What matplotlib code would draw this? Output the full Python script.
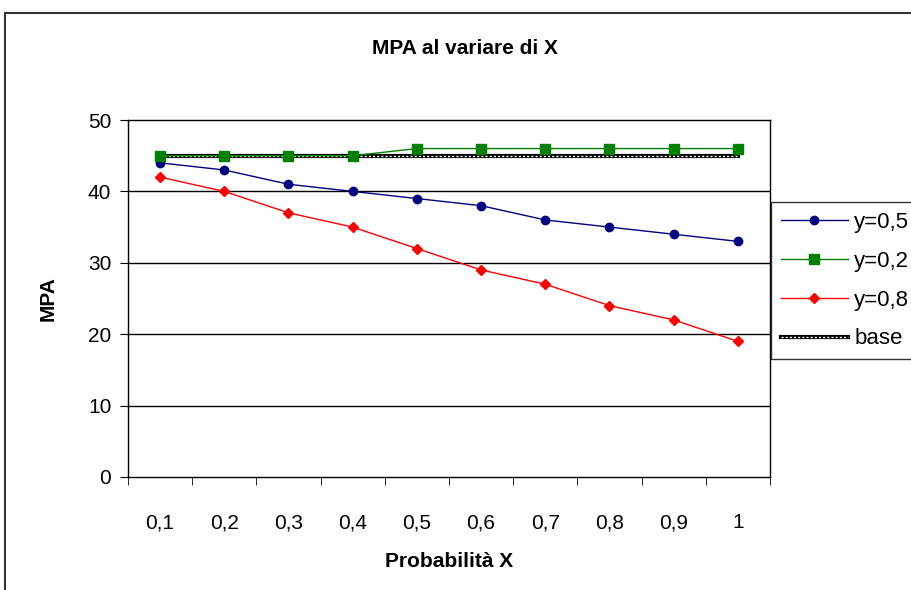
import numpy as np
import matplotlib.pyplot as plt
from matplotlib.patches import Rectangle
from matplotlib.lines import Line2D

plt.rcParams["font.family"] = ["Liberation Sans", "DejaVu Sans"]

# Dati
categorie = ["0,1", "0,2", "0,3", "0,4", "0,5", "0,6", "0,7", "0,8", "0,9", "1"]
y_05 = [44, 43, 41, 40, 39, 38, 36, 35, 34, 33]
y_02 = [45, 45, 45, 45, 46, 46, 46, 46, 46, 46]
y_08 = [42, 40, 37, 35, 32, 29, 27, 24, 22, 19]
base = [45, 45, 45, 45, 45, 45, 45, 45, 45, 45]

fig = plt.figure(figsize=(9.12, 5.9), dpi=100)
W, H = 912, 590
ax = fig.add_axes([128 / W, 1 - 477 / H, (770 - 128) / W, (477 - 120) / H])

x = np.arange(len(categorie))

# bordo esterno del grafico (stile Excel)
fig.patches.append(Rectangle((5 / W, -0.05), 1.2, 1 - 13 / H + 0.05,
                             transform=fig.transFigure, fill=False,
                             edgecolor="#333333", lw=1.5))

for v in [10, 20, 30, 40]:
    ax.axhline(v, color="black", lw=1, zorder=1)

ax.plot(x, base, color="black", lw=3, zorder=2)
ax.plot(x, base, color="white", lw=1, ls=(0, (1.5, 1.5)), zorder=2.1)
ax.plot(x, y_05, color="navy", marker="o", ms=6, lw=1, zorder=3, label="y=0,5")
ax.plot(x, y_02, color="green", marker="s", ms=7, lw=1, zorder=3, label="y=0,2")
ax.plot(x, y_08, color="red", marker="D", ms=5, lw=1, zorder=3, label="y=0,8")

ax.set_xlim(-0.5, len(categorie) - 0.5)
ax.set_ylim(0, 50)
ax.set_yticks([0, 10, 20, 30, 40, 50])
ax.set_xticks(x)
ax.set_xticklabels(categorie)
ax.set_xticks(np.arange(-0.5, len(categorie)), minor=True)
ax.tick_params(axis="x", which="major", length=0, pad=26, labelsize=15)
ax.tick_params(axis="x", which="minor", length=6, direction="out")
ax.tick_params(axis="y", length=6, direction="out", labelsize=15, pad=6)
for s in ax.spines.values():
    s.set_color("black")
    s.set_linewidth(1)

ax.set_xlabel("Probabilità X", fontsize=15, fontweight="bold", labelpad=14)
ax.set_ylabel("MPA", fontsize=15, fontweight="bold", labelpad=22)
fig.text(465 / W, 1 - 48 / H, "MPA al variare di X", ha="center", va="center",
         fontsize=15, fontweight="bold")

# legenda sul bordo destro, come nell'originale
h_base = (Line2D([], [], color="black", lw=3),
          Line2D([], [], color="white", lw=1, ls=(0, (1.5, 1.5))))
handles, labels = ax.get_legend_handles_labels()
handles.append(h_base)
labels.append("base")
leg = fig.legend(handles, labels, loc="upper left",
                 bbox_to_anchor=(771 / W, 1 - 202 / H), fontsize=16,
                 frameon=True, fancybox=False, edgecolor="black",
                 handlelength=3.0, borderaxespad=0, labelspacing=0.8,
                 handletextpad=0.3, borderpad=0.45)
leg.get_frame().set_linewidth(1)

fig.savefig("out.png", dpi=100)
